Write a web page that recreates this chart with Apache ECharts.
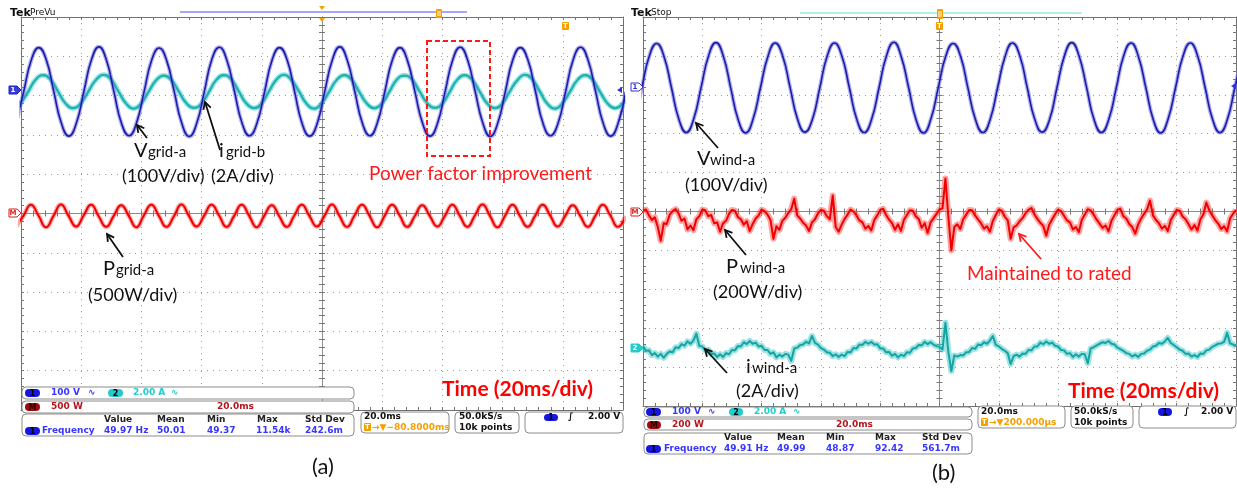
<!DOCTYPE html>
<html><head><meta charset="utf-8">
<script src="https://cdn.jsdelivr.net/npm/echarts@6/dist/echarts.min.js"></script>
<style>html,body{margin:0;padding:0;background:#fff}#c{width:1237px;height:492px}</style>
</head><body><div id="c"></div><script>
// ---- axes: time in ms relative to screen centre (20 ms/div), vertical in divisions ----
const xMinMs = -100, xMaxMs = 100, xStepMs = 20;
const yMinDiv = -5, yMaxDiv = 5, yStepDiv = 1;

// ---- panel (a) ----
const vGridStartMs = -101.6, vGridStepMs = 2.5;
const vGridDiv = [2.30,
 3.10,3.90,4.22,3.91,3.10,2.30,1.97,2.30,
 3.11,3.91,4.24,3.90,3.09,2.29,1.98,2.31,
 3.10,3.90,4.21,3.89,3.10,2.30,1.96,2.30,
 3.10,3.92,4.23,3.90,3.11,2.31,1.98,2.30,
 3.09,3.90,4.22,3.91,3.10,2.29,1.97,2.29,
 3.10,3.90,4.24,3.90,3.10,2.30,1.98,2.31,
 3.11,3.91,4.22,3.89,3.09,2.30,1.97,2.30,
 3.10,3.90,4.23,3.90,3.10,2.31,1.96,2.30,
 3.10,3.91,4.22,3.91,3.11,2.30,1.98,2.29,
 3.09,3.90,4.23,3.90,3.10,2.30,1.97,2.30,
 3.10];
const iGridStartMs = -100.1, iGridStepMs = 2.5;
const iGridDiv = [
 2.80,3.10,3.41,3.52,3.40,3.09,2.79,2.68,
 2.81,3.11,3.40,3.53,3.41,3.10,2.80,2.67,
 2.80,3.10,3.39,3.51,3.40,3.11,2.81,2.69,
 2.79,3.09,3.40,3.52,3.41,3.10,2.80,2.68,
 2.80,3.11,3.41,3.53,3.39,3.10,2.79,2.67,
 2.81,3.10,3.40,3.52,3.40,3.09,2.80,2.68,
 2.80,3.10,3.41,3.51,3.41,3.11,2.81,2.69,
 2.79,3.09,3.40,3.52,3.40,3.10,2.80,2.68,
 2.80,3.11,3.39,3.53,3.41,3.10,2.79,2.67,
 2.81,3.10,3.40,3.52,3.40,3.09,2.80,2.68,
 2.80,3.10];
const pGridStartMs = -101.7, pGridStepMs = 2.5;
const pGridDiv = [
 -0.34,-0.06,0.22,-0.05,-0.35,-0.06,0.23,-0.06,-0.33,-0.05,0.22,-0.07,-0.34,-0.06,0.21,-0.06,-0.35,-0.05,0.22,-0.06,
 -0.34,-0.07,0.23,-0.06,-0.33,-0.06,0.22,-0.05,-0.34,-0.06,0.22,-0.06,-0.35,-0.06,0.21,-0.07,-0.34,-0.05,0.22,-0.06,
 -0.33,-0.06,0.23,-0.06,-0.34,-0.05,0.22,-0.06,-0.35,-0.06,0.22,-0.05,-0.34,-0.07,0.21,-0.06,-0.33,-0.06,0.22,-0.06,
 -0.34,-0.05,0.23,-0.06,-0.35,-0.06,0.22,-0.07,-0.34,-0.06,0.22,-0.05,-0.33,-0.06,0.21,-0.06,-0.34,-0.06,0.22,-0.05,
 -0.34,-0.06];

// ---- panel (b) ----
const vWindStartMs = -102.9, vWindStepMs = 2.5;
const vWindDiv = [
 2.37,3.18,3.99,4.32,3.98,3.18,2.37,2.03,
 2.38,3.19,4.00,4.34,3.99,3.17,2.36,2.02,
 2.37,3.18,3.98,4.33,4.00,3.19,2.38,2.04,
 2.36,3.17,3.99,4.33,3.99,3.18,2.37,2.03,
 2.37,3.18,4.00,4.35,3.98,3.18,2.36,2.02,
 2.38,3.19,3.99,4.32,3.99,3.17,2.37,2.03,
 2.37,3.18,3.98,4.33,4.00,3.18,2.38,2.04,
 2.36,3.18,3.99,4.34,3.99,3.19,2.37,2.03,
 2.37,3.17,4.00,4.33,3.98,3.18,2.36,2.02,
 2.38,3.18,3.99,4.33,3.99,3.18,2.37,2.03,
 2.37,3.18,3.99];
const pWindStartMs = -100, pWindStepMs = 1;
const pWindDiv = [
 0.03,0.05,-0.10,-0.22,-0.15,-0.40,-0.75,-0.30,-0.32,-0.08,
 0.01,0.06,-0.05,-0.24,-0.18,-0.46,-0.36,-0.48,-0.20,-0.12,
 0.05,0.03,-0.12,-0.09,-0.30,-0.28,-0.52,-0.30,-0.24,-0.06,
 0.04,0.02,-0.14,-0.20,-0.34,-0.25,-0.50,-0.32,-0.18,-0.10,
 0.05,0.01,-0.08,-0.22,-0.70,-0.38,-0.47,-0.24,-0.16,-0.04,
 0.06,0.33,-0.10,-0.18,-0.29,-0.36,-0.50,-0.28,-0.20,-0.05,
 0.04,0.02,-0.12,-0.20,0.41,-0.40,-0.52,-0.34,-0.19,-0.08,
 0.05,0.00,-0.10,-0.23,-0.28,-0.44,-0.37,-0.49,-0.22,-0.10,
 0.04,0.07,-0.09,-0.21,-0.30,-0.47,-0.33,-0.50,-0.21,-0.09,
 0.03,0.02,-0.12,-0.19,-0.42,-0.30,-0.55,-0.28,-0.17,-0.06,
 0.05,
 0.08,0.85,-0.15,-1.00,-0.40,-0.33,-0.45,-0.20,-0.08,0.04,
 0.03,-0.10,-0.20,-0.30,-0.44,-0.38,-0.52,-0.24,-0.09,0.05,
 0.02,-0.13,-0.22,-0.70,-0.41,-0.36,-0.25,-0.17,-0.05,0.04,
 0.09,-0.07,-0.19,-0.29,-0.37,-0.62,-0.34,-0.20,-0.07,0.05,
 0.01,-0.11,-0.23,-0.28,-0.46,-0.40,-0.53,-0.21,-0.08,0.06,
 0.03,-0.08,-0.21,-0.31,-0.42,-0.36,-0.51,-0.24,-0.10,0.04,
 0.07,-0.12,-0.18,-0.32,-0.40,-0.57,-0.33,-0.18,-0.06,0.05,
 0.28,-0.10,-0.22,-0.30,-0.44,-0.37,-0.50,-0.22,-0.09,0.04,
 0.02,-0.13,-0.20,-0.33,-0.46,-0.35,-0.49,-0.20,-0.07,0.23,
 0.03,-0.10,-0.22,-0.31,-0.45,-0.38,-0.51,-0.18,-0.06,0.04];
const iWindStartMs = -100, iWindStepMs = 1;
const iWindDiv = [
 -3.46,-3.58,-3.57,-3.69,-3.64,-3.73,-3.66,-3.76,-3.66,-3.60,
 -3.62,-3.49,-3.51,-3.41,-3.45,-3.34,-3.40,-3.32,-3.14,-3.46,
 -3.47,-3.57,-3.55,-3.67,-3.65,-3.74,-3.67,-3.74,-3.64,-3.67,
 -3.56,-3.57,-3.46,-3.47,-3.36,-3.41,-3.33,-3.40,-3.37,-3.47,
 -3.45,-3.56,-3.56,-3.66,-3.62,-3.75,-3.68,-3.73,-3.66,-3.68,
 -3.84,-3.52,-3.50,-3.43,-3.42,-3.35,-3.39,-3.20,-3.38,-3.42,
 -3.51,-3.55,-3.62,-3.63,-3.72,-3.67,-3.74,-3.68,-3.72,-3.61,
 -3.62,-3.51,-3.52,-3.42,-3.43,-3.35,-3.40,-3.35,-3.42,-3.41,
 -3.52,-3.52,-3.62,-3.61,-3.71,-3.66,-3.75,-3.68,-3.72,-3.62,
 -3.63,-3.52,-3.51,-3.43,-3.44,-3.35,-3.41,-3.36,-3.42,-3.46,
 -3.48,
 -3.55,-2.86,-3.62,-4.10,-3.70,-3.73,-3.69,-3.70,-3.62,-3.61,
 -3.51,-3.53,-3.42,-3.44,-3.36,-3.40,-3.32,-3.20,-3.43,-3.47,
 -3.53,-3.58,-3.64,-3.92,-3.72,-3.68,-3.73,-3.65,-3.66,-3.56,
 -3.57,-3.47,-3.47,-3.37,-3.41,-3.34,-3.40,-3.37,-3.45,-3.47,
 -3.56,-3.57,-3.66,-3.64,-3.74,-3.67,-3.73,-3.66,-3.67,-3.90,
 -3.52,-3.49,-3.44,-3.40,-3.36,-3.38,-3.33,-3.40,-3.42,-3.50,
 -3.54,-3.58,-3.64,-3.66,-3.73,-3.68,-3.74,-3.66,-3.65,-3.58,
 -3.55,-3.47,-3.45,-3.38,-3.40,-3.34,-3.25,-3.38,-3.43,-3.49,
 -3.55,-3.58,-3.66,-3.65,-3.73,-3.69,-3.74,-3.65,-3.66,-3.57,
 -3.55,-3.48,-3.44,-3.40,-3.39,-3.35,-3.12,-3.39,-3.42,-3.47];

// ---- readouts ----
const readA = {ch1:'100 V', ch2:'2.00 A', math:'500 W', tb:'20.0ms', val:'49.97 Hz', mean:'50.01', min:'49.37', max:'11.54k', sd:'242.6m', pos:'\u2192\u25BC\u221280.8000ms', state:'PreVu'};
const readB = {ch1:'100 V', ch2:'2.00 A', math:'200 W', tb:'20.0ms', val:'49.91 Hz', mean:'49.99', min:'48.87', max:'92.42', sd:'561.7m', pos:'\u2192\u25BC200.000\u00B5s', state:'Stop'};

function toPairs(start, step, vals){ return vals.map((v,i)=>[+(start+i*step).toFixed(3), v]); }

const chart = echarts.init(document.getElementById('c'), null, {renderer:'canvas'});
const GRIDS = [{left:21, top:17, width:602, height:393}, {left:643, top:17, width:593, height:389}];
const TICKC = '#767676';
function xA(g, pos, onZero, split){
  return {gridIndex:g, type:'value', min:xMinMs, max:xMaxMs, interval:xStepMs, position:pos,
    axisLine:{show:true, onZero:onZero, lineStyle:{color:onZero?'#8c8c8c':'#707070', width:1}},
    axisTick:{show:true, inside:true, length:3, lineStyle:{color:TICKC}},
    minorTick:{show:true, splitNumber:5, length:3, lineStyle:{color:TICKC}},
    axisLabel:{show:false}, splitLine:{show:split, lineStyle:{color:'#9c9c9c', type:[1,5], width:1}}};
}
function yA(g, pos, onZero, split){
  return {gridIndex:g, type:'value', min:yMinDiv, max:yMaxDiv, interval:yStepDiv, position:pos,
    axisLine:{show:true, onZero:onZero, lineStyle:{color:onZero?'#8c8c8c':'#707070', width:1}},
    axisTick:{show:true, inside:true, length:3, lineStyle:{color:TICKC}},
    minorTick:{show:true, splitNumber:5, length:3, lineStyle:{color:TICKC}},
    axisLabel:{show:false}, splitLine:{show:split, lineStyle:{color:'#9c9c9c', type:[1,5], width:1}}};
}
const xAxis = [], yAxis = [];
[0,1].forEach(g=>{
  xAxis.push(xA(g,'bottom',false,true), xA(g,'top',false,false), xA(g,'bottom',true,false), xA(g,'top',true,false));
  yAxis.push(yA(g,'left',false,true), yA(g,'right',false,false), yA(g,'left',true,false), yA(g,'right',true,false));
});
function wave(g, data, color, width, smooth, z){
  return {type:'line', xAxisIndex:g*4, yAxisIndex:g*4, data:data, symbol:'none', showSymbol:false, smooth:smooth,
    lineStyle:{color:color, width:width, join:'round'}, silent:true, animation:false, clip:true, z:z};
}
const vGrid = toPairs(vGridStartMs, vGridStepMs, vGridDiv);
const iGrid = toPairs(iGridStartMs, iGridStepMs, iGridDiv);
const pGrid = toPairs(pGridStartMs, pGridStepMs, pGridDiv);
const vWind = toPairs(vWindStartMs, vWindStepMs, vWindDiv);
const pWind = toPairs(pWindStartMs, pWindStepMs, pWindDiv);
const iWind = toPairs(iWindStartMs, iWindStepMs, iWindDiv);
const series = [
  wave(0, iGrid, 'rgba(70,205,205,0.55)', 5, true, 3),
  wave(0, iGrid, '#1fb0b0', 2.2, true, 4),
  wave(0, vGrid, 'rgba(110,110,225,0.55)', 4, true, 5),
  wave(0, vGrid, '#1c1ca8', 1.6, true, 6),
  wave(0, pGrid, 'rgba(255,80,80,0.5)', 4.5, true, 5),
  wave(0, pGrid, '#f00000', 2, true, 6),
  wave(1, vWind, 'rgba(110,110,225,0.55)', 4, true, 5),
  wave(1, vWind, '#1c1ca8', 1.6, true, 6),
  wave(1, pWind, 'rgba(255,50,50,0.45)', 6, false, 5),
  wave(1, pWind, '#f00000', 2, false, 6),
  wave(1, iWind, 'rgba(60,200,200,0.5)', 6, false, 5),
  wave(1, iWind, '#17a3a3', 2, false, 6)
];

// ---- graphic helpers (annotations / scope chrome) ----
const FS = '"DejaVu Sans", sans-serif';
const FL = 'Lato, "Open Sans", sans-serif';
const SF = 'bold 9px ' + FS;
function T(x,y,text,fill,font,align,z){ return {type:'text', x:x, y:y, z:z||110, silent:true,
  style:{text:text, fill:fill||'#000', font:font||SF, textAlign:align||'left', textVerticalAlign:'middle', align:align||'left', verticalAlign:'middle'}}; }
function R(x,y,w,h,r,fill,stroke,lw,dash,z){ return {type:'rect', z:z||105, silent:true, shape:{x:x,y:y,width:w,height:h,r:r||0},
  style:{fill:fill||'none', stroke:stroke||'none', lineWidth:lw||1, lineDash:dash||null}}; }
function oval(x,y,w,h,fill,label,lc){ return [R(x,y,w,h,h/2,fill,'none',1,null,106), T(x+w/2,y+h/2+0.5,label,lc||'#000','bold 8px '+FS,'center',107)]; }
function L(x1,y1,x2,y2,stroke,w,z){ return {type:'line', z:z||108, silent:true, shape:{x1:x1,y1:y1,x2:x2,y2:y2}, style:{stroke:stroke, lineWidth:w||1}}; }
function P(pts,fill,stroke,z){ return {type:'polygon', z:z||108, silent:true, shape:{points:pts}, style:{fill:fill||'none', stroke:stroke||'none', lineWidth:1}}; }
function arrow(x1,y1,x2,y2,color,w){
  const a=Math.atan2(y2-y1,x2-x1), Lh=8, s=0.5;
  const p1=[x2-Lh*Math.cos(a-s), y2-Lh*Math.sin(a-s)], p2=[x2-Lh*Math.cos(a+s), y2-Lh*Math.sin(a+s)];
  return [L(x1,y1,x2,y2,color,w), {type:'polyline', z:108, silent:true, shape:{points:[p1,[x2,y2],p2]}, style:{stroke:color, lineWidth:w, fill:'none'}}];
}
const BLUE='#3636ff', CYAN='#1fcfcf', DRED='#b3161c', ORANGE='#f5a000', OVB='#1616e0', OVC='#22cccc', OVM='#9e0c0c', BOXS='#8c8c8c';
function flag(x,y,w,h,fill,stroke,label,lc){ return [P([[x,y],[x+w-4,y],[x+w,y+h/2],[x+w-4,y+h],[x,y+h]],fill,stroke,109), T(x+(w-4)/2,y+h/2+0.5,label,lc,'bold 7px '+FS,'center',110)]; }
function tIcon(x,y){ return [R(x,y,7,8,1,ORANGE,'none',1,null,106), T(x+3.5,y+4.5,'T','#fff','bold 7px '+FS,'center',107)]; }

let G = [];
// panel (a) header
G.push(T(10,13,'Tek','#111','bold 11px '+FS), T(30,13,readA.state,'#111','9px '+FS));
G.push(L(180,12,467,12,'#4c4cff',1,104));
G.push(P([[319,6],[325,6],[322,10]],ORANGE), P([[319,18],[325,18],[322,22]],ORANGE));
G.push(R(436,9,6,9,1,ORANGE,'none',1,null,106), L(438,11,438,16,'#fff',1,107), L(440,11,440,16,'#fff',1,107));
G.push(...tIcon(562,22));
// panel (b) header
G.push(T(631,13,'Tek','#111','bold 11px '+FS), T(651,13,readB.state,'#111','9px '+FS));
G.push(L(800,13,1082,13,'#66dede',1,104));
G.push(R(937,9,6,10,1,ORANGE,'none',1,null,106), L(939,11,939,17,'#fff',1,107), L(941,11,941,17,'#fff',1,107));
G.push(...tIcon(936,22));
// channel markers
G.push(...flag(9,86,12,8,'#3b3bd8','#2020c0','1','#fff'));
G.push(...flag(9,209,12,8,'#fff','#d02020','M','#d02020'));
G.push(P([[617,90],[622,87],[622,93]],'#3030e0'));
G.push(...flag(631,83,12,8,'#fff','#3030d0','1','#3030d0'));
G.push(...flag(631,208,12,8,'#fff','#d02020','M','#d02020'));
G.push(...flag(631,344,12,8,'#22cccc','#22cccc','2','#fff'));
G.push(P([[1231,86],[1236,83],[1236,89]],'#3030e0'));
// red dashed box
G.push(R(427,41,63,115,0,'none','#ff1a1a',2,[5,3],108));
// annotations panel (a)
const AF = (s)=> s+'px '+FL;
G.push(T(134,151,'V','#111',AF(20)), T(148,152.5,'grid-a','#111',AF(15)));
G.push(T(219,151,'i','#111',AF(20)), T(226,152.5,'grid-b','#111',AF(15)));
G.push(T(122,176,'(100V/div)','#111',AF(18)), T(211,176,'(2A/div)','#111',AF(18)));
G.push(T(103,269,'P','#111',AF(20)), T(116,270.5,'grid-a','#111',AF(15)));
G.push(T(88,295,'(500W/div)','#111',AF(18)));
G.push(T(369,174,'Power factor improvement','#ff1a1a',AF(19)));
G.push(T(442,389,'Time (20ms/div)','#ff0000','bold '+AF(21)));
G.push(T(312,467,'(a)','#111',AF(22)));
G.push(...arrow(147,138,137,125,'#111',1.8), ...arrow(220,150,205,102,'#111',1.8), ...arrow(123,257,107,234,'#111',1.8));
// annotations panel (b)
G.push(T(697,159,'V','#111',AF(20)), T(710,160.5,'wind-a','#111',AF(15)));
G.push(T(685,185,'(100V/div)','#111',AF(18)));
G.push(T(726,267,'P','#111',AF(20)), T(740,268.5,'wind-a','#111',AF(15)));
G.push(T(713,292,'(200W/div)','#111',AF(18)));
G.push(T(967,274,'Maintained to rated','#ff1a1a',AF(19)));
G.push(T(746,367,'i','#111',AF(20)), T(752,368.5,'wind-a','#111',AF(15)));
G.push(T(736,391,'(2A/div)','#111',AF(18)));
G.push(T(1068,391,'Time (20ms/div)','#ff0000','bold '+AF(21)));
G.push(T(932,473,'(b)','#111',AF(22)));
G.push(...arrow(718,148,696,123,'#111',1.8), ...arrow(746,255,725,230,'#111',1.8), ...arrow(727,373,705,349,'#111',1.8));
G.push(...arrow(1041,259,1019,234,'#ff1a1a',1.8));

// status panel (a)
G.push(R(22,387,332,12,4,'#fff',BOXS), R(22,401,332,12,4,'#fff',BOXS), R(22,414,332,22,4,'#fff',BOXS));
G.push(...oval(25,389,15,8,OVB,'1'), T(51,393,readA.ch1,BLUE), T(88,393,'\u223F',BLUE), ...oval(108,389,15,8,OVC,'2'), T(133,393,readA.ch2,CYAN), T(171,393,'\u223F',CYAN));
G.push(...oval(25,403,15,8,OVM,'M','#2a0000'), T(51,407,readA.math,DRED), T(217,407,readA.tb,DRED));
G.push(T(104,420,'Value','#222'), T(157,420,'Mean','#222'), T(207,420,'Min','#222'), T(257,420,'Max','#222'), T(305,420,'Std Dev','#222'));
G.push(...oval(25,427,15,8,OVB,'1'), T(42,431,'Frequency',BLUE), T(104,431,readA.val,BLUE), T(157,431,readA.mean,BLUE), T(207,431,readA.min,BLUE), T(256,431,readA.max,BLUE), T(305,431,readA.sd,BLUE));
G.push(R(361,412,88,21,4,'#fff',BOXS), T(364,417,readA.tb,'#111'), ...tIcon(364,423), T(372,427.5,readA.pos,ORANGE));
G.push(R(455,412,64,21,4,'#fff',BOXS), T(459,417,'50.0kS/s','#111'), T(459,427.5,'10k points','#111'));
G.push(R(525,412,98,21,4,'#fff',BOXS), ...oval(544,414,14,7,OVB,'1'), T(568,417,'\u222B','#111'), T(588,417,'2.00 V','#111'));
// status panel (b)
G.push(R(644,407,328,10,4,'#fff',BOXS), R(644,419,328,11,4,'#fff',BOXS), R(644,433,328,21,4,'#fff',BOXS));
G.push(...oval(646,408,15,8,OVB,'1'), T(672,412,readB.ch1,BLUE), T(708,412,'\u223F',BLUE), ...oval(729,408,14,8,OVC,'2'), T(754,412,readB.ch2,CYAN), T(793,412,'\u223F',CYAN));
G.push(...oval(647,421,14,8,OVM,'M','#2a0000'), T(672,425,readB.math,DRED), T(836,425,readB.tb,DRED));
G.push(T(724,438,'Value','#222'), T(777,438,'Mean','#222'), T(826,438,'Min','#222'), T(875,438,'Max','#222'), T(922,438,'Std Dev','#222'));
G.push(...oval(646,445,15,8,OVB,'1'), T(664,449,'Frequency',BLUE), T(724,449,readB.val,BLUE), T(777,449,readB.mean,BLUE), T(826,449,readB.min,BLUE), T(875,449,readB.max,BLUE), T(922,449,readB.sd,BLUE));
G.push(R(978,406,87,22,4,'#fff',BOXS), T(981,412,readB.tb,'#111'), ...tIcon(981,418), T(989,422.5,readB.pos,ORANGE));
G.push(R(1071,406,62,22,4,'#fff',BOXS), T(1074,412,'50.0kS/s','#111'), T(1074,422.5,'10k points','#111'));
G.push(R(1139,406,97,22,4,'#fff',BOXS), ...oval(1158,408,14,8,OVB,'1'), T(1184,412,'\u222B','#111'), T(1201,412,'2.00 V','#111'));

chart.setOption({
  animation:false, backgroundColor:'#fff',
  grid: GRIDS.map(g=>Object.assign({show:false, containLabel:false}, g)),
  xAxis: xAxis, yAxis: yAxis, series: series,
  graphic: {elements: G}
});
</script></body></html>
